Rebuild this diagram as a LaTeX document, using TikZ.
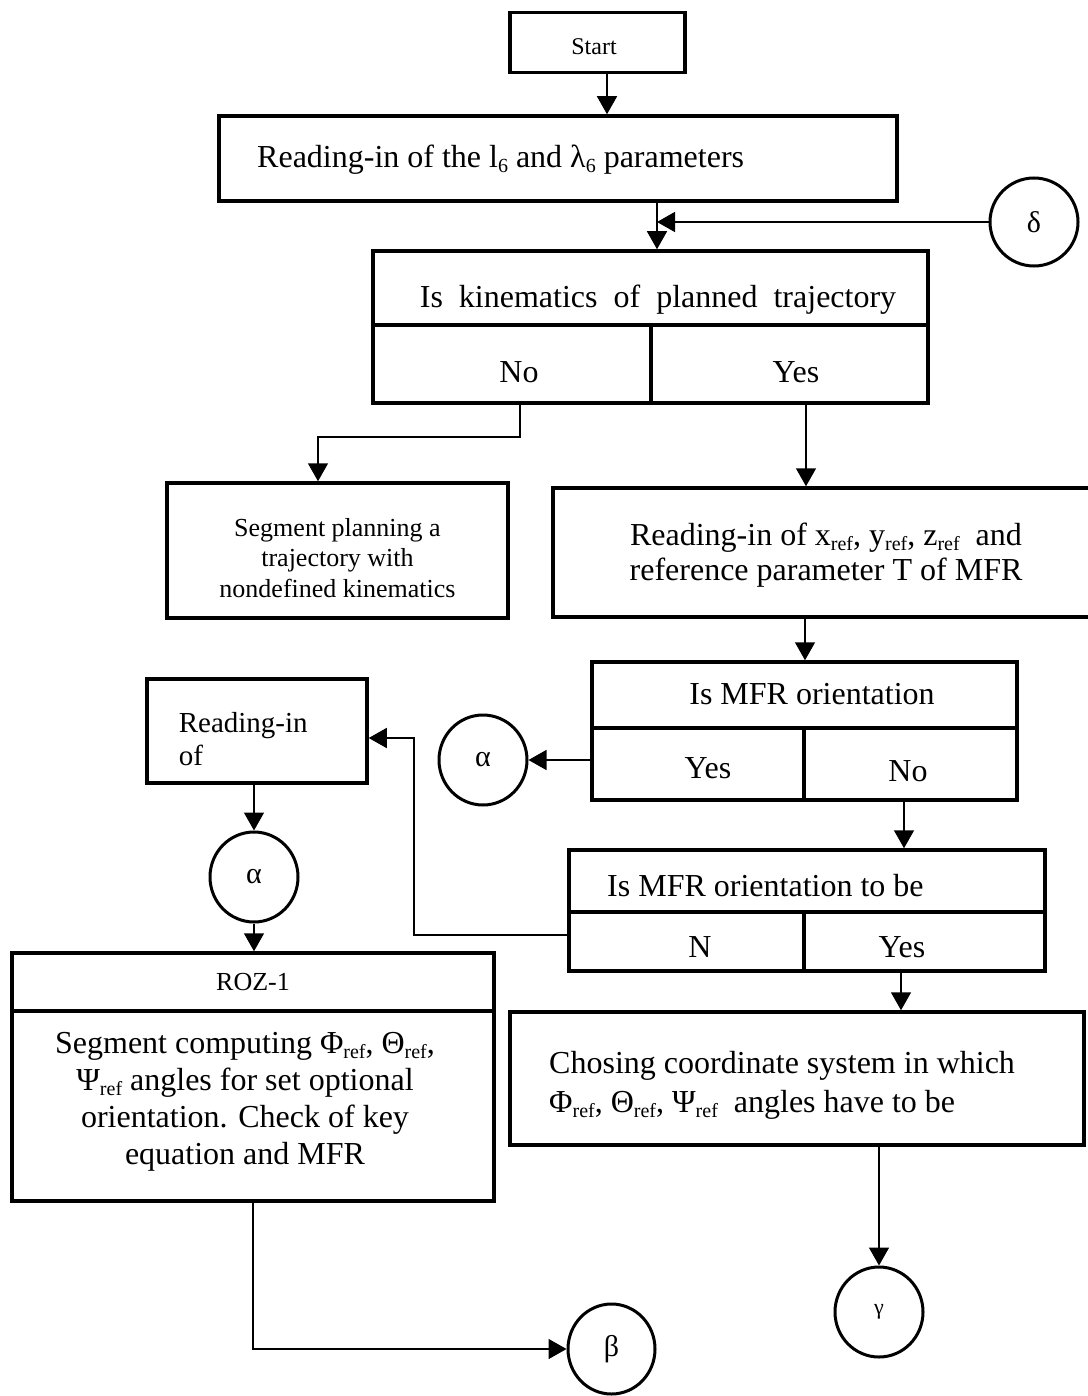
\documentclass[tikz,border=0pt]{standalone}
\usepackage{fontspec}
\setmainfont{Liberation Serif}
\usetikzlibrary{arrows.meta,shapes.geometric}
\newcommand{\sub}[1]{\raisebox{-0.16em}{\fontsize{20}{20}\selectfont #1}}
\newcommand{\rf}{\sub{ref}}
\begin{document}
\begin{tikzpicture}[x=1pt,y=-1pt,
  box/.style={draw, line width=3.5pt, rectangle, inner sep=0pt},
  divider/.style={line width=3.5pt},
  circ/.style={draw, line width=3pt, ellipse, inner sep=0pt, minimum width=88pt, minimum height=90pt, font=\fontsize{30}{34}\selectfont},
  conn/.style={line width=1.5pt},
  arr/.style={conn, -{Triangle[length=18pt,width=20pt]}},
  txt/.style={inner sep=0pt, font=\fontsize{32}{37}\selectfont}]
\useasboundingbox (0,0) rectangle (1087,1396);

% column / row helper coordinates
\coordinate (x607) at (607,0);
\coordinate (x657) at (657,0);
\coordinate (x520) at (520,0);
\coordinate (x318) at (318,0);
\coordinate (x806) at (806,0);
\coordinate (x805) at (805,0);
\coordinate (x904) at (904,0);
\coordinate (x901) at (901,0);
\coordinate (y738) at (0,738);
\coordinate (jNo) at (520,437);
\coordinate (jN) at (414,935);

% Start
\node[box, minimum width=175pt, minimum height=60pt] (start) at (597.5,42.5) {};
\node[txt, font=\fontsize{24}{28}\selectfont] (tstart) at (594,47) {Start};

% Reading-in 1
\node[box, minimum width=678pt, minimum height=85pt] (read1) at (558,158.5) {};
\node[txt, anchor=west] (tread1) at (257,160) {Reading-in of the l\sub{6} and λ\sub{6} parameters};

% delta
\node[circ, minimum height=88pt] (delta) at (1034,222) {δ};

% Is kinematics
\node[box, minimum width=555pt, minimum height=152pt] (kin) at (650.5,327) {};
\draw[divider] (373,325) -- (928,325);
\draw[divider] (651,325) -- (651,403);
\node[txt] (tkin) at (658,300) {Is\ \ kinematics\ \ of\ \ planned\ \ trajectory};
\node[txt] (tkno) at (519,372) {No};
\node[txt] (tkyes) at (796,372) {Yes};

% Segment planning
\node[box, minimum width=341pt, minimum height=135pt] (seg) at (337.5,550.5) {};
\node[txt, align=center, font=\fontsize{26}{30.5}\selectfont] (tseg) at (337.5,558) {Segment planning a\\trajectory with\\nondefined kinematics};

% Reading-in 2
\node[box, minimum width=560pt, minimum height=129pt] (read2) at (833,552.5) {};
\node[txt, align=center, font=\fontsize{32}{35}\selectfont] (tread2) at (826,555) {Reading-in of x\rf, y\rf, z\rf\ \ and\\reference parameter T of MFR};

% Is MFR orientation
\node[box, minimum width=425pt, minimum height=138pt] (mfr) at (804.5,731) {};
\draw[divider] (592,728) -- (1017,728);
\draw[divider] (804,728) -- (804,800);
\node[txt] (tmfr) at (812,694) {Is MFR orientation};
\node[txt] (tmfryes) at (708,768) {Yes};
\node[txt] (tmfrno) at (908,771) {No};

% alpha 1
\node[circ] (alpha1) at (483,760) {α};

% Is MFR orientation to be
\node[box, minimum width=476pt, minimum height=121pt] (mfr2) at (807,910.5) {};
\draw[divider] (569,912) -- (1045,912);
\draw[divider] (804,912) -- (804,971);
\node[txt, anchor=west] (tmfr2) at (607,886) {Is MFR orientation to be};
\node[txt] (tmfr2n) at (700,947) {N};
\node[txt] (tmfr2yes) at (902,947) {Yes};

% Reading-in of (left)
\node[box, minimum width=220pt, minimum height=104pt] (read3) at (257,731) {};
\node[txt, anchor=west, align=left, font=\fontsize{29}{33}\selectfont] (tread3) at (178.6,739) {Reading-in\\of};

% alpha 2
\node[circ] (alpha2) at (254,877) {α};

% ROZ-1
\node[box, minimum width=482pt, minimum height=248pt] (roz) at (253,1077) {};
\draw[divider] (12,1011) -- (494,1011);
\node[txt, font=\fontsize{26}{30}\selectfont] (troztitle) at (253,982) {ROZ-1};
\node[txt, align=center, font=\fontsize{32}{37}\selectfont] (troz) at (245,1102) {Segment computing Φ\rf, Θ\rf,\\Ψ\rf{} angles for set optional\\orientation. Check of key\\equation and MFR};

% Chosing
\node[box, minimum width=574pt, minimum height=133pt] (chos) at (797,1078.5) {};
\node[txt, anchor=west, align=left, font=\fontsize{32}{39}\selectfont] (tchos) at (549,1085) {Chosing coordinate system in which\\Φ\rf, Θ\rf, Ψ\rf\ \ angles have to be};

% beta, gamma
\node[circ, minimum width=87pt] (beta) at (611.5,1349) {β};
\node[circ, font=\fontsize{22}{26}\selectfont] (gamma) at (879,1312) {γ};

% connectors
\draw[arr] (start.south -| x607) -- (read1.north -| x607);
\draw[arr] (read1.south -| x657) -- (kin.north -| x657);
\draw[arr] (delta.west) -- (delta.west -| x657);
\draw[arr] (kin.south -| x520) -- (jNo) -| (seg.north -| x318);
\draw[arr] (kin.south -| x806) -- (read2.north -| x806);
\draw[arr] (read2.south -| x805) -- (mfr.north -| x805);
\draw[arr] (mfr.west |- alpha1) -- (alpha1.east);
\draw[arr] (mfr.south -| x904) -- (mfr2.north -| x904);
\draw[arr] (mfr2.west |- jN) -- (jN) |- (read3.east |- y738);
\draw[arr] (read3.south -| alpha2) -- (alpha2.north);
\draw[arr] (alpha2.south) -- (roz.north -| alpha2);
\draw[arr] (roz.south) |- (beta.west);
\draw[arr] (mfr2.south -| x901) -- (chos.north -| x901);
\draw[arr] (chos.south -| gamma) -- (gamma.north);
\end{tikzpicture}
\end{document}
